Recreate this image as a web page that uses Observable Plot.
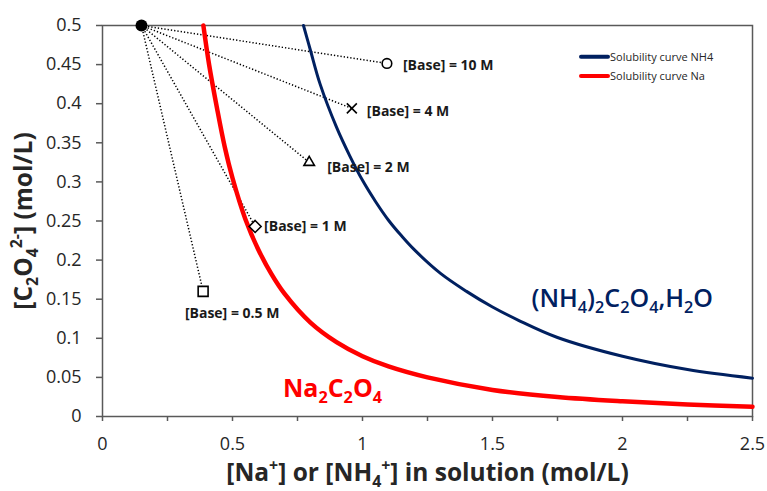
<!DOCTYPE html>
<html><head><meta charset="utf-8">
<script src="https://cdn.jsdelivr.net/npm/d3@7"></script>
<script src="https://cdn.jsdelivr.net/npm/@observablehq/plot@0.6"></script>
<style>
html,body{margin:0;padding:0;background:#fff;}
#chart svg{display:block;}
</style></head><body><div id="chart"></div>
<script>
// ---------- data ----------
const xTicks = [0, 0.5, 1, 1.5, 2, 2.5];
const xMinorTicks = [0.25, 0.75, 1.25, 1.75, 2.25];
const yTicks = [0, 0.05, 0.1, 0.15, 0.2, 0.25, 0.3, 0.35, 0.4, 0.45, 0.5];

// Solubility curve Na (Na2C2O4)
const naX = [0.388, 0.41, 0.44, 0.47, 0.5, 0.55, 0.6, 0.65, 0.7, 0.8, 0.9, 1.0, 1.1, 1.25, 1.5, 1.75, 2.0, 2.25, 2.5];
const naY = [0.5, 0.45, 0.395, 0.345, 0.305, 0.252, 0.213, 0.182, 0.157, 0.12, 0.095, 0.077, 0.064, 0.05, 0.034, 0.025, 0.0195, 0.0155, 0.0125];

// Solubility curve NH4 ((NH4)2C2O4,H2O)
const nh4X = [0.773, 0.8, 0.837, 0.9, 0.95, 1.0, 1.05, 1.1, 1.15, 1.2, 1.3, 1.4, 1.5, 1.6, 1.75, 2.0, 2.25, 2.5];
const nh4Y = [0.5, 0.468, 0.425, 0.37, 0.334, 0.302, 0.275, 0.251, 0.231, 0.213, 0.183, 0.16, 0.14, 0.123, 0.101, 0.077, 0.06, 0.049];

// Starting point and base-concentration points
const originX = [0.15];
const originY = [0.5];
const baseLabels = ["[Base] = 0.5 M", "[Base] = 1 M", "[Base] = 2 M", "[Base] = 4 M", "[Base] = 10 M"];
const baseX = [0.387, 0.587, 0.795, 0.959, 1.094];
const baseY = [0.16, 0.243, 0.325, 0.394, 0.4515];
const baseSymbols = ["square", "diamond2", "triangle", "times", "circle"];

const legendLabels = ["Solubility curve NH4", "Solubility curve Na"];
const annotLabels = ["(NH_4)_2C_2O_4,H_2O", "Na_2C_2O_4"];
const annotX = [1.65, 0.694];
const annotY = [0.15, 0.035];

const xTitle = "[Na^+] or [NH_4^+] in solution (mol/L)";
const yTitle = "[C_2O_4^{2-}] (mol/L)";

// ---------- styles ----------
const FONT = "'Open Sans', sans-serif";
const AXIS = "#595959";
const TEXT = "#262626";
const NAVY = "#002060";
const RED = "#FF0000";
const seriesColors = [NAVY, RED];
const symbolR = {square: 5.6, diamond2: 5.4, triangle: 3.9, times: 4.6, circle: 4.8};
const labelLayout = [
  {anchor: "middle", dx: 29, dy: 22},
  {anchor: "start", dx: 9, dy: 0},
  {anchor: "start", dx: 18, dy: 5},
  {anchor: "start", dx: 15, dy: 3},
  {anchor: "start", dx: 16, dy: 2}
];

// ---------- tables ----------
const naRows = naX.map((x, i) => ({x, y: naY[i]}));
const nh4Rows = nh4X.map((x, i) => ({x, y: nh4Y[i]}));
const baseRows = baseX.map((x, i) => ({x, y: baseY[i], label: baseLabels[i], symbol: baseSymbols[i]}));
const originRows = originX.map((x, i) => ({x, y: originY[i]}));
const annotRows = annotLabels.map((label, i) => ({label, x: annotX[i], y: annotY[i], color: [NAVY, RED][i]}));

const fmt = d3.format("~g");

const marks = [
  Plot.axisX({ticks: xMinorTicks.concat(xTicks), tickSize: 5, stroke: AXIS, strokeWidth: 1.5, tickFormat: () => "", label: null}),
  Plot.axisX({ticks: xTicks, tickSize: 0, tickPadding: 21, fill: TEXT, fontSize: 18, tickFormat: fmt, label: null}),
  Plot.axisY({ticks: yTicks, tickSize: 6, stroke: AXIS, strokeWidth: 1.5, tickFormat: () => "", label: null}),
  Plot.axisY({ticks: yTicks, tickSize: 0, tickPadding: 21, fill: TEXT, fontSize: 18, tickFormat: fmt, label: null}),
  Plot.frame({stroke: AXIS, strokeWidth: 1.5}),
  Plot.link(baseRows, {
    x1: () => originX[0], y1: () => originY[0], x2: "x", y2: "y",
    stroke: "#000", strokeWidth: 1.5, strokeDasharray: "1.3,2"
  }),
  Plot.line(nh4Rows, {x: "x", y: "y", stroke: NAVY, strokeWidth: 3, curve: "catmull-rom"}),
  Plot.line(naRows, {x: "x", y: "y", stroke: RED, strokeWidth: 4.5, curve: "catmull-rom"}),
  Plot.dot(originRows, {x: "x", y: "y", r: 6, fill: "#000"})
];

baseRows.forEach((row, i) => {
  const s = row.symbol;
  marks.push(Plot.dot([row], {
    x: "x", y: "y", symbol: () => s, r: symbolR[s],
    stroke: "#000", strokeWidth: 1.6, fill: s === "times" ? "none" : "white"
  }));
  const L = labelLayout[i];
  marks.push(Plot.text([row], {
    x: "x", y: "y", text: "label", textAnchor: L.anchor, lineAnchor: "middle", dx: L.dx, dy: L.dy,
    fontSize: 14, fontWeight: "bold", fill: "#1a1a1a"
  }));
});

annotRows.forEach((row) => {
  marks.push(Plot.text([row], {
    x: "x", y: "y", text: "label", textAnchor: "start", lineAnchor: "middle",
    fontSize: 25, fontWeight: row.color === RED ? "bold" : 600, fill: row.color
  }));
});

marks.push(Plot.text([xTitle], {frameAnchor: "bottom", textAnchor: "middle", lineAnchor: "middle", dy: 57, fontSize: 24.5, fontWeight: "bold", fill: TEXT, text: d => d}));
marks.push(Plot.text([yTitle], {frameAnchor: "left", textAnchor: "middle", lineAnchor: "middle", dx: -78, rotate: -90, fontSize: 24.5, fontWeight: "bold", fill: TEXT, text: d => d}));

const plot = Plot.plot({
  width: 767, height: 491,
  marginLeft: 102, marginRight: 15, marginTop: 25, marginBottom: 75,
  style: {fontFamily: FONT, background: "white", overflow: "visible"},
  x: {domain: [0, 2.5], label: null},
  y: {domain: [0, 0.5], label: null},
  symbol: {type: "identity"},
  marks
});

// sub/superscript markup: _x or _{..} subscript, ^x or ^{..} superscript
function applyMarkup(svg) {
  d3.select(svg).selectAll("text").each(function () {
    const el = this;
    if (el.querySelector("tspan")) return;
    const s = el.textContent;
    if (!/[_^]/.test(s)) return;
    const parts = [];
    const re = /([_^])(?:\{([^}]*)\}|(.))/g;
    let last = 0, m;
    while ((m = re.exec(s))) {
      if (m.index > last) parts.push({t: s.slice(last, m.index), k: 0});
      parts.push({t: m[2] !== undefined ? m[2] : m[3], k: m[1] === "_" ? 1 : -1});
      last = re.lastIndex;
    }
    if (last < s.length) parts.push({t: s.slice(last), k: 0});
    el.textContent = "";
    let cur = 0;
    for (const p of parts) {
      const f = p.k ? 0.65 : 1;
      const target = p.k === 1 ? 0.22 : p.k === -1 ? -0.42 : 0;
      const ts = d3.select(el).append("tspan").text(p.t);
      if (f !== 1) ts.style("font-size", f + "em");
      const dy = (target - cur) / f;
      if (Math.abs(dy) > 1e-6) ts.attr("dy", dy.toFixed(3) + "em");
      cur = target;
    }
  });
}
applyMarkup(plot);

// legend (top-right inside the frame)
const svg = d3.select(plot);
const lg = svg.append("g").attr("font-family", FONT).attr("font-size", 11).attr("text-anchor", "start");
legendLabels.forEach((lab, i) => {
  const y = 56.7 + i * 19.3;
  lg.append("line").attr("x1", 581).attr("x2", 608).attr("y1", y).attr("y2", y)
    .attr("stroke", seriesColors[i]).attr("stroke-width", 4).attr("stroke-linecap", "round");
  lg.append("text").attr("x", 610).attr("y", y).attr("dy", "0.35em").attr("fill", TEXT).text(lab);
});

document.getElementById("chart").appendChild(plot);
</script></body></html>
